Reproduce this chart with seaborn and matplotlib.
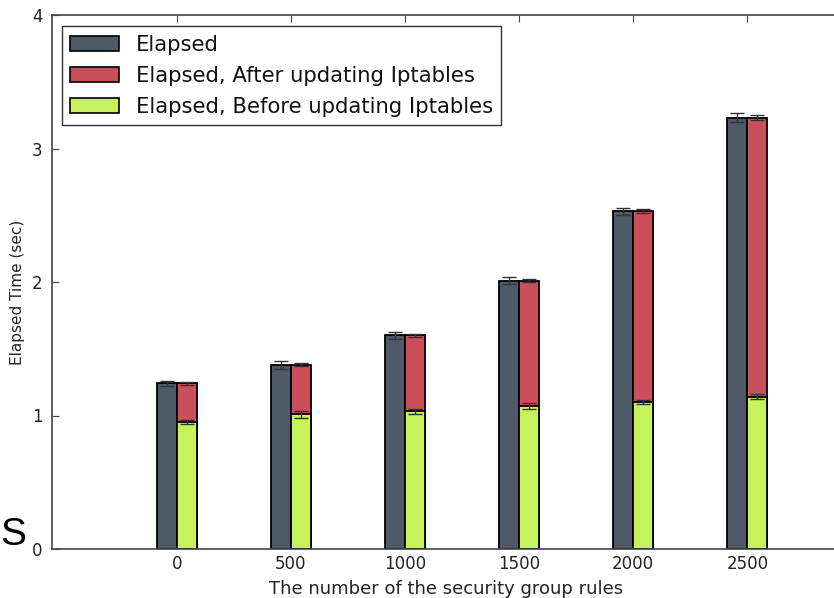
import numpy as np
import pandas as pd
import matplotlib
matplotlib.use("Agg")
import matplotlib.pyplot as plt
from matplotlib.patches import Patch
import seaborn as sns

# Measurements per number of security group rules
rules = [0, 500, 1000, 1500, 2000, 2500]
elapsed = [1.24, 1.38, 1.60, 2.01, 2.53, 3.23]
elapsed_err = [0.02, 0.03, 0.025, 0.025, 0.025, 0.035]
before_iptables = [0.95, 1.01, 1.03, 1.07, 1.10, 1.14]
before_err = [0.015, 0.025, 0.02, 0.02, 0.015, 0.02]
after_err = [0.01, 0.01, 0.01, 0.01, 0.015, 0.02]

labels = ["Elapsed", "Elapsed, After updating Iptables", "Elapsed, Before updating Iptables"]
colors = ["#4e5a68", "#c94f5a", "#c6f25c"]

sns.set_style("white")
plt.rcParams["font.family"] = ["DejaVu Sans"]

bar_w = 87.5
rel_w = bar_w / 500.0

fig = plt.figure(figsize=(8.34, 5.98), dpi=100)
ax = fig.add_axes([52 / 834, 49 / 598, 821 / 834, 534 / 598])

df = pd.DataFrame({
    "rules": rules,
    "elapsed": elapsed,
    "before": before_iptables,
})
df["pos_left"] = df["rules"] - bar_w / 2
df["pos_right"] = df["rules"] + bar_w / 2

common = dict(native_scale=True, width=rel_w, errorbar=None,
              edgecolor="black", linewidth=1.3, ax=ax)
sns.barplot(data=df, x="pos_left", y="elapsed", color=colors[0], saturation=1, **common)
sns.barplot(data=df, x="pos_right", y="elapsed", color=colors[1], saturation=1, **common)
sns.barplot(data=df, x="pos_right", y="before", color=colors[2], saturation=1, **common)

err_kw = dict(fmt="none", ecolor="#333333", elinewidth=1.0, capsize=5, capthick=1.0, zorder=5)
ax.errorbar(df["pos_left"], df["elapsed"], yerr=elapsed_err, **err_kw)
ax.errorbar(df["pos_right"], df["elapsed"], yerr=after_err, **err_kw)
ax.errorbar(df["pos_right"], df["before"], yerr=before_err, **err_kw)

ax.set_xlim(-546, 3050)
ax.set_ylim(0, 4)
ax.set_xticks(rules)
ax.set_xticklabels([str(r) for r in rules])
ax.set_yticks([0, 1, 2, 3, 4])
ax.set_yticklabels(["0", "1", "2", "3", "4"])
ax.tick_params(direction="in", length=5, width=0.8, color="#444444",
               top=True, right=True, bottom=True, left=True,
               labelsize=12, labelcolor="#222222")
ax.tick_params(axis="x", pad=4)
ax.tick_params(axis="y", pad=7)
for s in ax.spines.values():
    s.set_color("#444444")
    s.set_linewidth(1.2)

ax.set_xlabel("The number of the security group rules", fontsize=13, color="#222222")
ax.xaxis.set_label_coords((446 - 52) / 821, -0.058)
ax.set_ylabel("Elapsed Time (sec)", fontsize=11, color="#222222")
ax.yaxis.set_label_coords(-0.033, (598 - 292 - 49) / 534)

handles = [Patch(facecolor=c, edgecolor="black", linewidth=1.2) for c in colors]
leg = ax.legend(handles, labels, loc="upper left", bbox_to_anchor=(0.0122, 0.979),
                fontsize=15.2, frameon=True, fancybox=False, handlelength=2.3,
                handleheight=0.7, handletextpad=0.8, borderpad=0.4, labelspacing=0.53,
                borderaxespad=0.0)
leg.get_frame().set_edgecolor("black")
leg.get_frame().set_linewidth(1.0)
for t in leg.get_texts():
    t.set_color("#111111")

fig.text(0.0, 53 / 598, "S", fontsize=28, family=["Liberation Sans", "DejaVu Sans"],
         color="black", ha="left", va="baseline")

fig.savefig("out.png", dpi=100)
